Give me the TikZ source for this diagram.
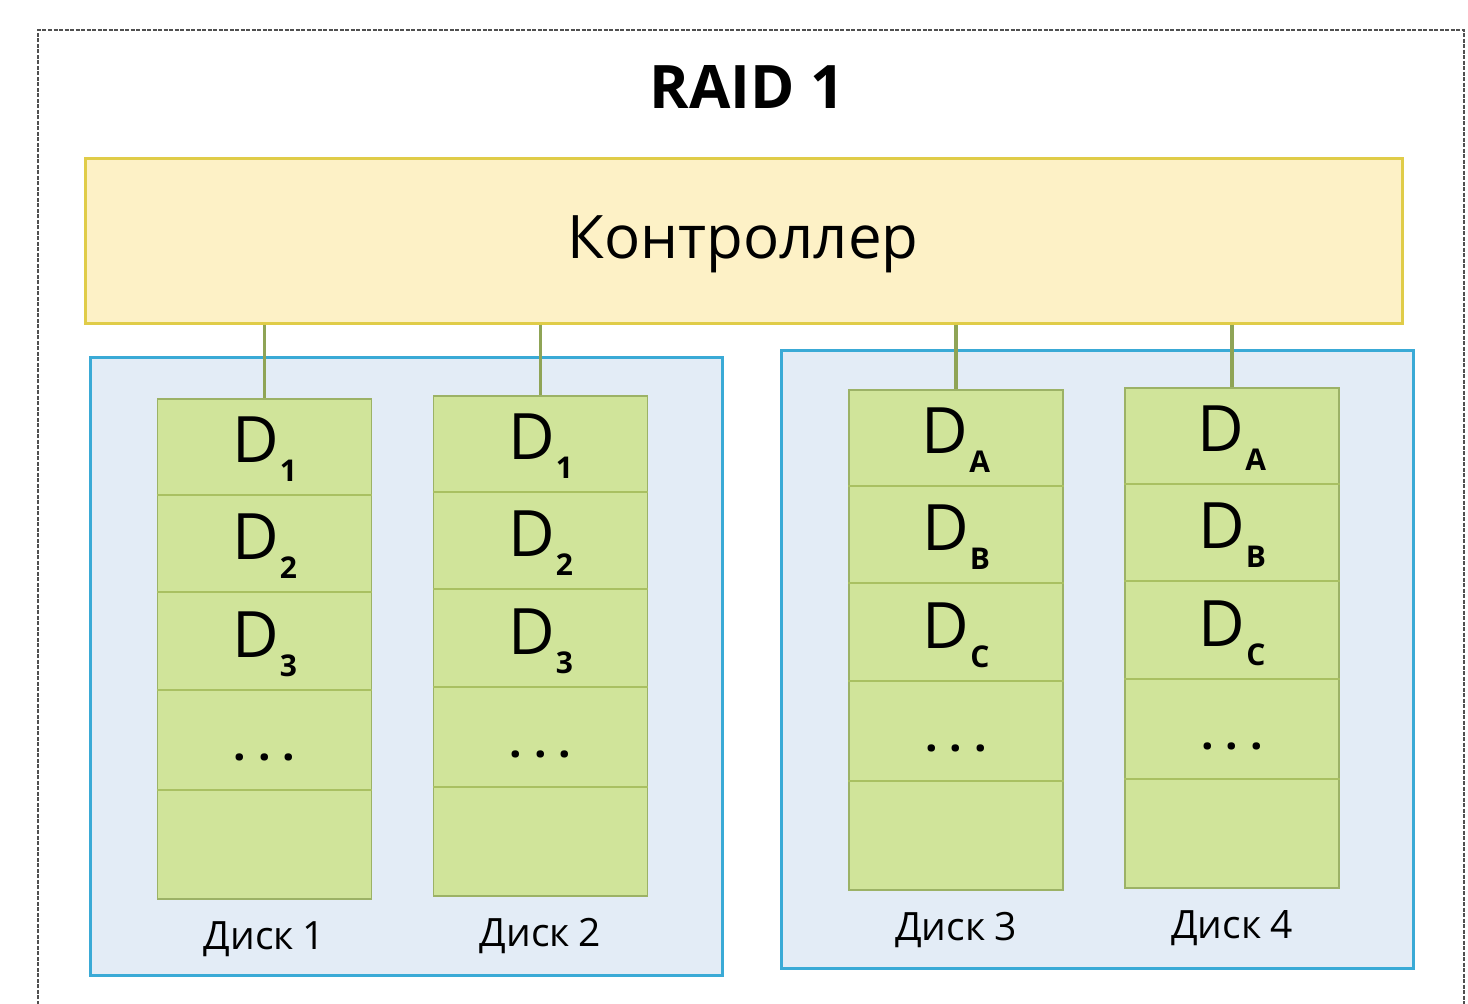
\documentclass[tikz,border=0pt]{standalone}
\usepackage{fontspec}
\setmainfont{Open Sans}
\definecolor{ctrlfill}{HTML}{FDF1C6}
\definecolor{ctrldraw}{HTML}{E0CC48}
\definecolor{grpfill}{HTML}{E3ECF6}
\definecolor{grpdraw}{HTML}{3AAAD6}
\definecolor{diskfill}{HTML}{D0E49A}
\definecolor{diskdraw}{HTML}{9CB266}
\definecolor{rowline}{HTML}{A9C062}
\definecolor{wire}{HTML}{8FA456}
\definecolor{framecol}{HTML}{505050}
\tikzset{
  ctrlbox/.style={draw=ctrldraw, fill=ctrlfill, line width=3pt, minimum width=1317pt, minimum height=165pt, inner sep=0pt},
  grpbox/.style={draw=grpdraw, fill=grpfill, line width=3pt, minimum width=632pt, minimum height=618pt, inner sep=0pt},
  diskbox/.style={draw=diskdraw, fill=diskfill, line width=1.5pt, minimum width=214pt, minimum height=500pt, inner sep=0pt},
  rowsep/.style={draw=rowline, line width=2pt},
  wireline/.style={draw=wire, line width=3.5pt},
  celltext/.style={anchor=base, inner sep=0pt, font=\fontsize{64}{64}\selectfont},
  disklabel/.style={anchor=base, inner sep=0pt, font=\fontsize{39}{39}\selectfont},
}
\newcommand{\sbx}[1]{\hspace{1pt}\raisebox{-19pt}{\fontsize{30}{30}\selectfont\bfseries #1}}
\begin{document}
\begin{tikzpicture}[x=1pt,y=-1pt]
\useasboundingbox (0,0) rectangle (1468,1004);
\fill[white] (0,0) rectangle (1468,1004);
\draw[framecol, line width=1.5pt, dash pattern=on 4pt off 1.5pt] (38,1010) -- (38,30) -- (1464,30) -- (1464,1010);
\node[anchor=base, inner sep=0pt, font=\fontsize{60}{60}\selectfont\bfseries] (title) at (747,108) {RAID 1};
\node[ctrlbox] (ctrl) at (743.5,240.5) {};
\node[anchor=base, inner sep=0pt, font=\fontsize{60}{60}\selectfont] (ctrltext) at (743,258) {Контроллер};
\node[grpbox] (g1) at (406,666) {};
\node[grpbox] (g2) at (1097.5,659) {};
\foreach \i/\cx/\top/\a/\b/\c in {1/264.5/398/1/2/3, 2/540.5/395/1/2/3, 3/956/389/A/B/C, 4/1232/387/A/B/C}{
  \node[diskbox, anchor=north] (d\i) at (\cx,\top) {};
  \foreach \f in {97,194,292,392}{
    \draw[rowsep] ([yshift=-\f pt]d\i.north west) -- ([yshift=-\f pt]d\i.north east);
  }
  \node[celltext] (d\i r1) at ([yshift=-64.5pt]d\i.north) {D\sbx{\a}};
  \node[celltext] (d\i r2) at ([yshift=-161.5pt]d\i.north) {D\sbx{\b}};
  \node[celltext] (d\i r3) at ([yshift=-259pt]d\i.north) {D\sbx{\c}};
  \node[anchor=base, inner sep=0pt, font=\fontsize{44}{44}\selectfont\bfseries] (d\i r4) at ([yshift=-362pt]d\i.north) {.\hspace{12pt}.\hspace{12pt}.};
  \node[disklabel] (l\i) at ([yshift=-50pt]d\i.south) {Диск\hspace{9pt}\i};
  \draw[wireline] (ctrl.south -| d\i.north) -- (d\i.north);
}
\end{tikzpicture}
\end{document}
